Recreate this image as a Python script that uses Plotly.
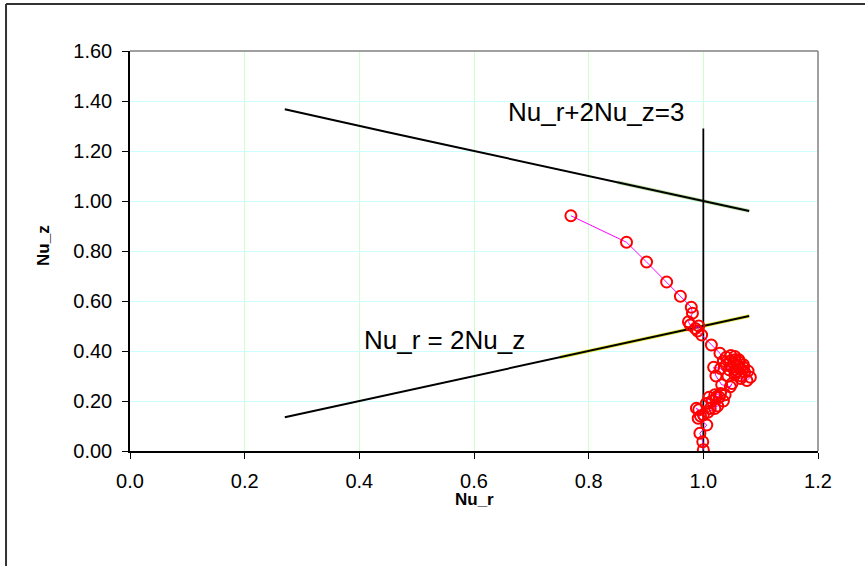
import plotly.graph_objects as go

# Upper line: Nu_r + 2 Nu_z = 3
upper_x = [0.27, 0.35, 0.45, 0.55, 0.65, 0.75, 0.85, 0.95, 1.00, 1.05, 1.08]
upper_y = [1.367, 1.325, 1.275, 1.225, 1.175, 1.125, 1.075, 1.025, 1.000, 0.975, 0.960]

# Lower line: Nu_r = 2 Nu_z
lower_x = [0.27, 0.35, 0.45, 0.55, 0.65, 0.75, 0.85, 0.95, 1.00, 1.05, 1.08]
lower_y = [0.135, 0.175, 0.225, 0.275, 0.325, 0.375, 0.425, 0.475, 0.500, 0.525, 0.540]

# Vertical reference line Nu_r = 1
vline_x = [1.0, 1.0]
vline_y = [0.0, 1.29]

# Trajectory (Nu_r, Nu_z)
traj_x = [0.769, 0.866, 0.901, 0.936, 0.960, 0.979, 0.981, 0.974, 0.977, 0.986, 0.992,
          0.990, 0.997, 1.014, 1.029, 1.035, 1.040, 1.048, 1.055, 1.062, 1.070, 1.078,
          1.082, 1.076, 1.065, 1.055, 1.045, 1.040, 1.047, 1.055, 1.063, 1.070, 1.072,
          1.066, 1.056, 1.050, 1.053, 1.060, 1.064, 1.060, 1.043, 1.030, 1.018, 1.022,
          1.032, 1.047, 1.050, 1.038, 1.023, 1.015, 1.028, 1.035, 1.025, 1.012, 1.005,
          1.010, 1.020, 1.030, 1.020, 1.008, 1.000, 0.992, 0.988, 0.995, 0.991, 1.006,
          0.994, 0.999, 1.000]
traj_y = [0.941, 0.835, 0.756, 0.676, 0.619, 0.575, 0.551, 0.517, 0.504, 0.490, 0.500,
          0.480, 0.464, 0.424, 0.391, 0.360, 0.375, 0.382, 0.378, 0.365, 0.345, 0.320,
          0.295, 0.282, 0.290, 0.305, 0.325, 0.345, 0.360, 0.365, 0.355, 0.335, 0.315,
          0.300, 0.315, 0.335, 0.350, 0.345, 0.330, 0.320, 0.300, 0.330, 0.335, 0.300,
          0.265, 0.257, 0.270, 0.225, 0.217, 0.200, 0.215, 0.200, 0.180, 0.170, 0.190,
          0.215, 0.225, 0.230, 0.170, 0.155, 0.145, 0.165, 0.171, 0.140, 0.131, 0.104,
          0.071, 0.037, 0.005]

x_ticks = [0.0, 0.2, 0.4, 0.6, 0.8, 1.0, 1.2]
x_tick_text = ["0.0", "0.2", "0.4", "0.6", "0.8", "1.0", "1.2"]
y_ticks = [0.0, 0.2, 0.4, 0.6, 0.8, 1.0, 1.2, 1.4, 1.6]
y_tick_text = ["0.00", "0.20", "0.40", "0.60", "0.80", "1.00", "1.20", "1.40", "1.60"]

FONT = "Arial, Liberation Sans, sans-serif"

fig = go.Figure()

# subtle coloured underlays seen on the reference lines
fig.add_trace(go.Scatter(x=upper_x[6:], y=upper_y[6:], mode="lines",
                         line=dict(color="#b8e0a0", width=3.5), hoverinfo="skip", showlegend=False))
fig.add_trace(go.Scatter(x=lower_x[5:], y=lower_y[5:], mode="lines",
                         line=dict(color="#e8e840", width=3.5), hoverinfo="skip", showlegend=False))

fig.add_trace(go.Scatter(x=upper_x, y=upper_y, mode="lines",
                         line=dict(color="black", width=2), showlegend=False))
fig.add_trace(go.Scatter(x=lower_x, y=lower_y, mode="lines",
                         line=dict(color="black", width=2), showlegend=False))
fig.add_trace(go.Scatter(x=vline_x, y=vline_y, mode="lines",
                         line=dict(color="black", width=1.8), showlegend=False))
fig.add_trace(go.Scatter(x=traj_x, y=traj_y, mode="lines+markers",
                         line=dict(color="#ff00ff", width=1),
                         marker=dict(symbol="circle-open", size=11, color="red",
                                     line=dict(color="red", width=2)),
                         showlegend=False))

fig.update_xaxes(range=[0, 1.2], tickvals=x_ticks, ticktext=x_tick_text,
                 showgrid=True, gridcolor="#ccffcc", gridwidth=1,
                 showline=True, linecolor="black", linewidth=1.5,
                 ticks="outside", ticklen=6, tickcolor="black",
                 tickfont=dict(family=FONT, size=20, color="black"),
                 ticklabelstandoff=5, zeroline=False)
fig.update_yaxes(range=[0, 1.6], tickvals=y_ticks, ticktext=y_tick_text,
                 showgrid=True, gridcolor="#ccffff", gridwidth=1,
                 showline=True, linecolor="black", linewidth=1.5,
                 ticks="outside", ticklen=6, tickcolor="black",
                 tickfont=dict(family=FONT, size=20, color="black"),
                 ticklabelstandoff=6, zeroline=False)

# frame pixels: plot area x 130..818, y 51..451 in a 865x566 page
fig.update_layout(
    width=865, height=566,
    margin=dict(l=130, r=47, t=51, b=115),
    paper_bgcolor="white", plot_bgcolor="white",
    shapes=[
        dict(type="line", xref="paper", yref="paper", x0=0, x1=1, y0=1, y1=1,
             line=dict(color="#808080", width=1.5)),
        dict(type="line", xref="paper", yref="paper", x0=1, x1=1, y0=0, y1=1,
             line=dict(color="#808080", width=1.5)),
        dict(type="line", xref="paper", yref="paper", x0=-0.1802, x1=-0.1802, y0=-0.32, y1=1.1175,
             line=dict(color="#333333", width=2)),
        dict(type="line", xref="paper", yref="paper", x0=-0.1802, x1=1.1, y0=1.1175, y1=1.1175,
             line=dict(color="#333333", width=2)),
    ],
    annotations=[
        dict(text="Nu_r+2Nu_z=3", x=0.813, y=1.356, xref="x", yref="y", showarrow=False,
             font=dict(family=FONT, size=26, color="black"), xanchor="center", yanchor="middle"),
        dict(text="Nu_r = 2Nu_z", x=0.549, y=0.444, xref="x", yref="y", showarrow=False,
             font=dict(family=FONT, size=26, color="black"), xanchor="center", yanchor="middle"),
        dict(text="<b>Nu_r</b>", x=0.5, y=-0.12, xref="paper", yref="paper", showarrow=False,
             font=dict(family=FONT, size=17, color="black"), xanchor="center", yanchor="middle"),
        dict(text="<b>Nu_z</b>", x=-0.1265, y=0.515, xref="paper", yref="paper", showarrow=False,
             textangle=-90,
             font=dict(family=FONT, size=17, color="black"), xanchor="center", yanchor="middle"),
    ],
)

fig.write_html("out.html", config={"displayModeBar": False},
               post_script="document.body.style.margin='0';document.body.style.overflow='hidden';")
